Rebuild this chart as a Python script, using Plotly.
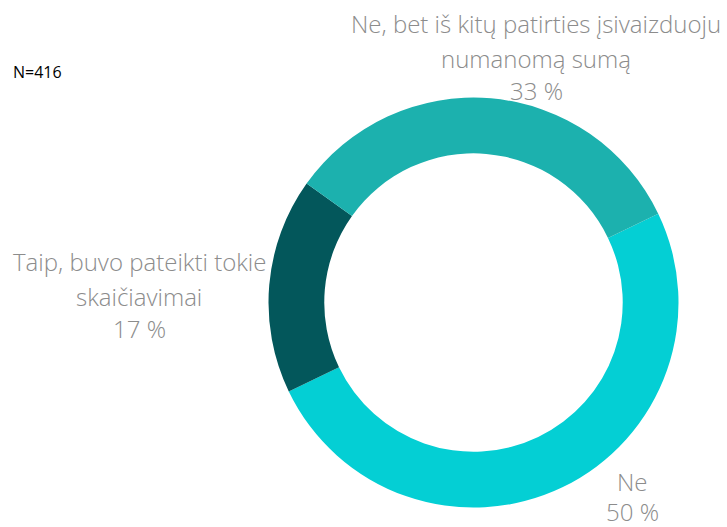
import plotly.graph_objects as go

# Survey answers, listed clockwise starting from the right-hand boundary
labels = ["Ne", "Taip, buvo pateikti tokie skaičiavimai", "Ne, bet iš kitų patirties įsivaizduoju numanomą sumą"]
values = [50, 17, 33]
colors = ["#04CFD4", "#03575B", "#1CB1AE"]
sample_note = "N=416"

# Label lines for each slice (text lines, centre x px, centre y px of each line)
label_lines = {
    "Ne": (["Ne"], 632, [482]),
    "Taip, buvo pateikti tokie skaičiavimai": (["Taip, buvo pateikti tokie", "skaičiavimai"], 139, [262, 296]),
    "Ne, bet iš kitų patirties įsivaizduoju numanomą sumą": (["Ne, bet iš kitų patirties įsivaizduoju", "numanomą sumą"], 536, [24, 59]),
}
pct_y = {"Ne": 511, "Taip, buvo pateikti tokie skaičiavimai": 328,
         "Ne, bet iš kitų patirties įsivaizduoju numanomą sumą": 91}

W, H = 727, 527
cx, cy, r = 473.5, 302.6, 205.0

fig = go.Figure(go.Pie(
    labels=labels,
    values=values,
    marker=dict(colors=colors, line=dict(width=0)),
    hole=0.728,
    sort=False,
    direction="clockwise",
    rotation=64.3,
    textinfo="none",
    hoverinfo="label+percent",
    showlegend=False,
    domain=dict(x=[(cx - r) / W, (cx + r) / W], y=[1 - (cy + r) / H, 1 - (cy - r) / H]),
))

label_font = dict(family="Open Sans", size=24, color="#8C8C8C", weight=300)
annotations = []
total = sum(values)
for lab, val in zip(labels, values):
    lines, x_px, ys = label_lines[lab]
    for line, y_px in zip(lines, ys):
        annotations.append(dict(text=line, x=x_px / W, y=1 - y_px / H, xref="paper", yref="paper",
                                xanchor="center", yanchor="middle", showarrow=False, font=label_font,
                                borderpad=0))
    annotations.append(dict(text=f"{round(val / total * 100)} %", x=x_px / W, y=1 - pct_y[lab] / H,
                            xref="paper", yref="paper", xanchor="center", yanchor="middle",
                            showarrow=False, font=label_font, borderpad=0))

annotations.append(dict(text=sample_note, x=11 / W, y=1 - 72 / H, xref="paper", yref="paper",
                        xanchor="left", yanchor="middle", showarrow=False,
                        font=dict(family="Open Sans", size=16, color="#000000")))

fig.update_layout(
    width=W, height=H,
    margin=dict(l=0, r=0, t=0, b=0),
    paper_bgcolor="white", plot_bgcolor="white",
    annotations=annotations,
)

fig.write_html("out.html")
